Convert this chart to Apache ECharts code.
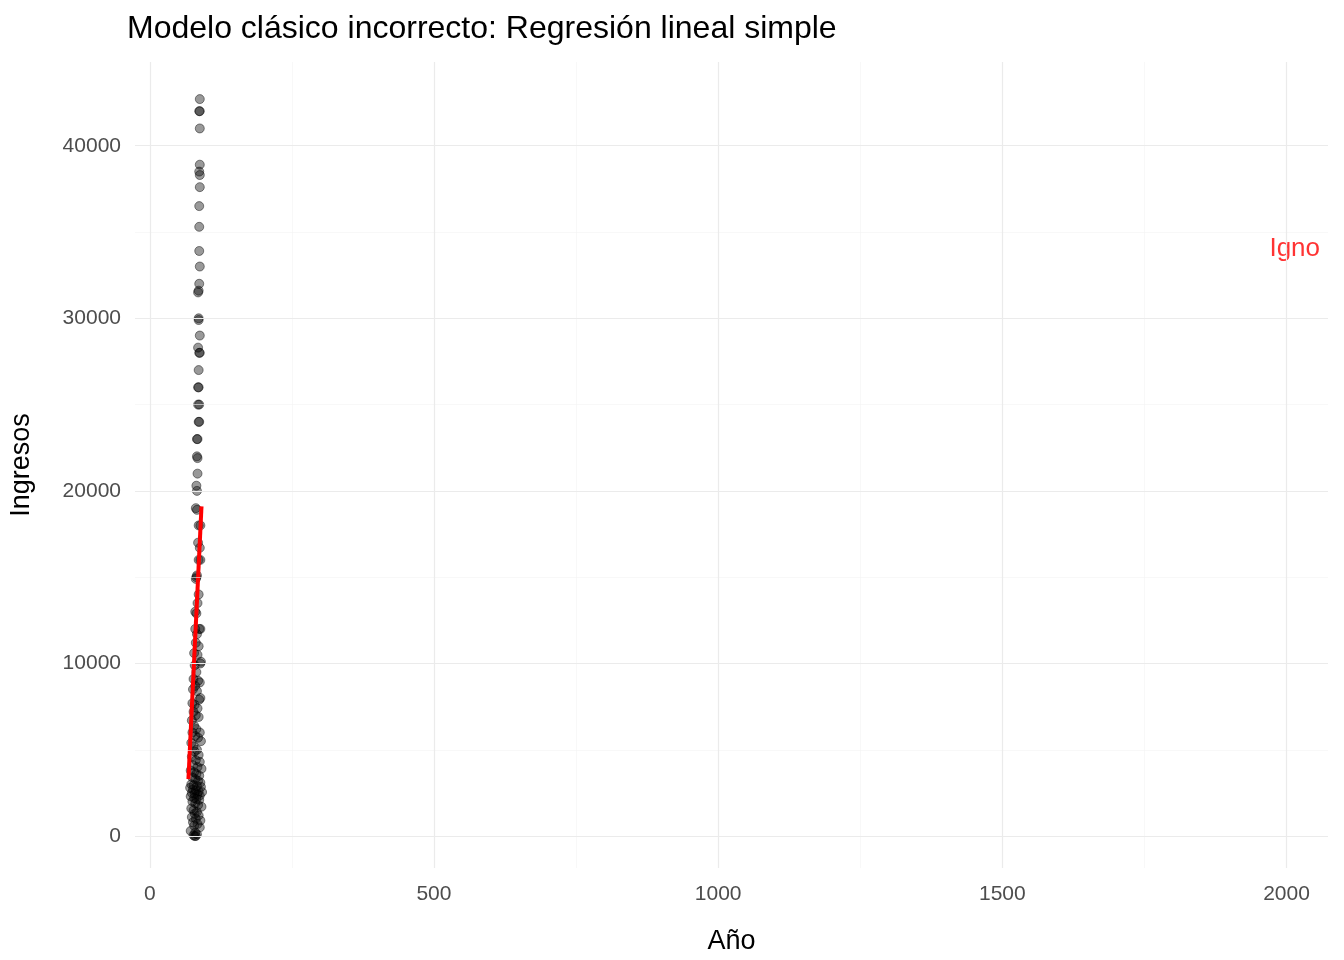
<!DOCTYPE html><html><head><meta charset="utf-8"><script src="https://cdn.jsdelivr.net/npm/echarts@6/dist/echarts.min.js"></script></head><body style="margin:0"><div id="c" style="width:1344px;height:960px"></div><script>
const xTicks=[0,500,1000,1500,2000];
const xMinor=[250,750,1250,1750];
const yTicks=[0,10000,20000,30000,40000];
const yMinor=[5000,15000,25000,35000];
const pts=[[88,42700],[87,42000],[88,42000],[88,41000],[88,38900],[87,38500],[88,38300],[88,37600],[87,36500],[87,35300],[87,33900],[88,33000],[87,32000],[86,31600],[85,31500],[86,30000],[86,29900],[88,29000],[87,28000],[88,28000],[85,28300],[86,27000],[85,26000],[86,26000],[85,25000],[87,25000],[86,24000],[87,24000],[83,23000],[84,23000],[83,22000],[84,21900],[84,21000],[82,20300],[83,20000],[81,19000],[83,18900],[86,18000],[89,18000],[85,17000],[88,16700],[86,16000],[89,16000],[82,15000],[83,15100],[81,14900],[86,14000],[84,13500],[80,13000],[82,12900],[89,12000],[87,12000],[80,12000],[83,11700],[81,11200],[86,11000],[78,10600],[84,10500],[89,10000],[90,10100],[79,9900],[82,9500],[77,9100],[85,9000],[88,8900],[80,8700],[76,8500],[83,8400],[89,8000],[87,7900],[75,7700],[79,7600],[84,7400],[77,7200],[81,7000],[86,6900],[74,6700],[78,6400],[82,6200],[88,6000],[75,6000],[80,5800],[85,5700],[90,5500],[73,5400],[77,5200],[83,5000],[79,4900],[86,4700],[74,4600],[81,4400],[88,4300],[76,4100],[84,4000],[91,3900],[72,3800],[78,3700],[82,3600],[87,3500],[75,3400],[80,3300],[85,3200],[89,3100],[73,3000],[77,2950],[83,2900],[90,2850],[71,2800],[76,2700],[81,2650],[86,2600],[92,2550],[74,2500],[79,2450],[84,2400],[88,2350],[72,2300],[78,2200],[82,2150],[87,2100],[75,2000],[80,1900],[85,1800],[91,1700],[73,1600],[77,1500],[83,1400],[79,1300],[86,1200],[74,1100],[81,1000],[89,900],[76,800],[84,700],[78,600],[88,500],[72,300],[80,200],[83,100],[79,0],[81,0],[77,50]];
const fitX=[68,91];
const fitY=[3300,19100];
const ann={x:1977,y:34000,text:'Igno'};
const lab={color:'#4d4d4d',fontSize:21,fontFamily:'Liberation Sans'};
function vl(v,maj){return {xAxis:v,lineStyle:{color:maj?'#ebebeb':'#f3f3f3',width:maj?1.2:0.6,type:'solid'},label:maj?Object.assign({show:true,position:'start',formatter:String(v),distance:16},lab):{show:false}};}
function hl(v,maj){return {yAxis:v,lineStyle:{color:maj?'#ebebeb':'#f3f3f3',width:maj?1.2:0.6,type:'solid'},label:maj?Object.assign({show:true,position:'start',formatter:String(v),distance:14},lab):{show:false}};}
const c=echarts.init(document.getElementById('c'));
c.setOption({animation:false,backgroundColor:'#fff',
title:{text:'Modelo clásico incorrecto: Regresión lineal simple',left:122,top:8,textStyle:{fontSize:32,fontWeight:'normal',color:'#000',fontFamily:'Liberation Sans'}},
grid:{left:128,right:16,top:62,bottom:90},
xAxis:{type:'value',min:-26,max:2073,axisLine:{show:false},axisTick:{show:false},axisLabel:{show:false},splitLine:{show:false},name:'Año',nameLocation:'middle',nameGap:60,nameTextStyle:{fontSize:27,color:'#000',fontFamily:'Liberation Sans'}},
yAxis:{type:'value',min:-1850,max:44850,axisLine:{show:false},axisTick:{show:false},axisLabel:{show:false},splitLine:{show:false},name:'Ingresos',nameLocation:'middle',nameGap:100,nameTextStyle:{fontSize:27,color:'#000',fontFamily:'Liberation Sans'}},
series:[
{type:'line',data:[],markLine:{silent:true,symbol:'none',animation:false,data:[...xMinor.map(v=>vl(v,false)),...yMinor.map(v=>hl(v,false)),...xTicks.map(v=>vl(v,true)),...yTicks.map(v=>hl(v,true))]}},
{type:'scatter',data:pts,symbolSize:9,itemStyle:{color:'rgba(0,0,0,0.5)',borderColor:'rgba(0,0,0,0.7)',borderWidth:0.8}},
{type:'line',data:[[fitX[0],fitY[0]],[fitX[1],fitY[1]]],symbol:'none',lineStyle:{color:'#ff0000',width:4}},
{type:'scatter',data:[[ann.x,ann.y]],symbolSize:0,label:{show:true,position:'right',distance:-4,formatter:ann.text,color:'#ff0000',fontSize:26,fontFamily:'Liberation Sans'}}
]});
</script></body></html>
